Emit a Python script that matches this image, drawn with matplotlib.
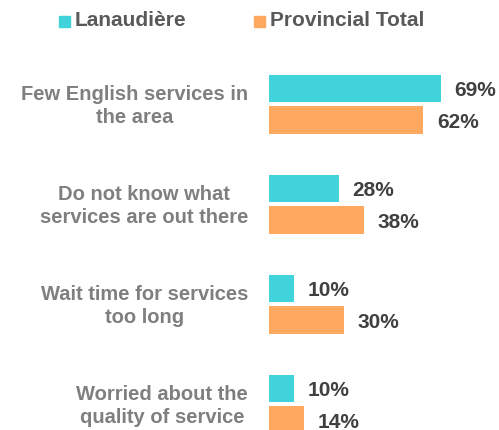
import numpy as np
import matplotlib
matplotlib.use("Agg")
import matplotlib.pyplot as plt
import matplotlib.transforms as mtransforms
from matplotlib.patches import Rectangle

plt.rcParams['font.family'] = ['Liberation Sans', 'DejaVu Sans']

categories = ["Few English services in\nthe area",
              "Do not know what\nservices are out there",
              "Wait time for services\ntoo long",
              "Worried about the\nquality of service"]
lanaudiere = [69, 28, 10, 10]
provincial = [62, 38, 30, 14]
series_names = ["Lanaudière", "Provincial Total"]

teal = "#41D3DB"
orange = "#FFA85F"

W, H = 499, 431
fig = plt.figure(figsize=(W / 100, H / 100), dpi=100)
# axes from x=269px to right edge, full height
ax = fig.add_axes([269 / W, 0, 1 - 269 / W, 1])

centers = 1.053 + np.arange(len(categories)) * 1.0
off = 0.157
bh = 0.272

b1 = ax.barh(centers - off, lanaudiere, height=bh, color=teal)
b2 = ax.barh(centers + off, provincial, height=bh, color=orange)

for bars, vals in [(b1, lanaudiere), (b2, provincial)]:
    for rect, v in zip(bars, vals):
        ax.annotate(f"{v}%", (rect.get_width(), rect.get_y() + rect.get_height() / 2),
                    xytext=(10, -1), textcoords="offset points",
                    ha="left", va="center", fontsize=15, fontweight="bold",
                    color="#404040")

ax.set_xlim(0, 92.4)
ax.set_ylim(H / 100, 0)
ax.set_yticks(centers)
ax.set_yticklabels(categories, fontsize=14.5, fontweight="bold", color="#7F7F7F",
                   multialignment="center", linespacing=1.25)
ax.tick_params(axis="y", length=0, pad=15)
# nudge category labels up a touch
shift = mtransforms.ScaledTranslation(0, 3 / 100, fig.dpi_scale_trans)
for lbl in ax.get_yticklabels():
    lbl.set_transform(lbl.get_transform() + shift)
ax.set_xticks([])
for s in ax.spines.values():
    s.set_visible(False)

# legend drawn by hand
leg = [(59, series_names[0], teal), (254, series_names[1], orange)]
for x0, name, col in leg:
    fig.patches.append(Rectangle((x0 / W, 1 - 28 / H), 11 / W, 11 / H,
                                 transform=fig.transFigure, color=col))
    fig.text((x0 + 16) / W, 1 - 21 / H, name, fontsize=15, fontweight="bold",
             color="#595959", ha="left", va="center")

fig.savefig("out.png", dpi=100)
